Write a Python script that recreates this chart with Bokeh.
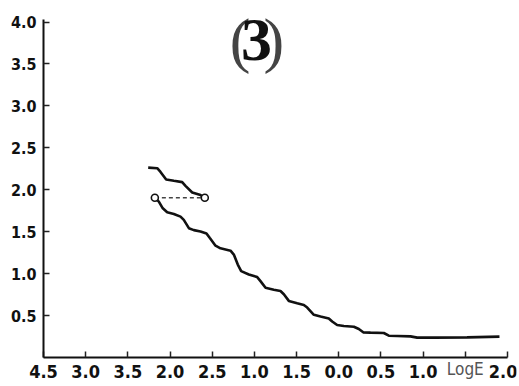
from bokeh.plotting import figure
from bokeh.models import Range1d, FixedTicker, Label
from bokeh.embed import file_html
from bokeh.resources import INLINE

# Tick positions (log E) and printed labels
x_ticks = [-3.5, -3.0, -2.5, -2.0, -1.5, -1.0, -0.5, 0.0, 0.5, 1.0, 1.5, 2.0]
x_tick_labels = ["4.5", "3.0", "3.5", "2.0", "2.5", "1.0", "1.5", "0.0", "0.5", "1.0", "", "2.0"]
y_ticks = [0.5, 1.0, 1.5, 2.0, 2.5, 3.0, 3.5, 4.0]
y_tick_labels = ["0.5", "1.0", "1.5", "2.0", "2.5", "3.0", "3.5", "4.0"]
axis_name = "LogE"
panel_number = "3"

# Upper curve
upper_x = [-2.259, -2.152, -2.113, -2.046, -1.955, -1.856, -1.817, -1.737, -1.639, -1.588]
upper_y = [2.264, 2.257, 2.213, 2.122, 2.107, 2.091, 2.047, 1.968, 1.937, 1.905]

# Lower (main) curve
lower_x = [-2.180, -2.133, -2.086, -2.034, -1.955, -1.876, -1.837, -1.777, -1.718, -1.639,
           -1.568, -1.528, -1.461, -1.402, -1.283, -1.244, -1.197, -1.157, -1.066, -0.967,
           -0.928, -0.868, -0.770, -0.691, -0.651, -0.592, -0.493, -0.414, -0.374, -0.295,
           -0.216, -0.118, -0.078, -0.019, 0.060, 0.179, 0.238, 0.290, 0.376, 0.534,
           0.593, 0.693, 0.850, 0.930, 1.127, 1.522, 1.905]
lower_y = [1.905, 1.858, 1.779, 1.732, 1.712, 1.680, 1.641, 1.542, 1.519, 1.503,
           1.479, 1.424, 1.333, 1.302, 1.274, 1.227, 1.108, 1.030, 0.990, 0.959,
           0.911, 0.832, 0.809, 0.793, 0.754, 0.675, 0.647, 0.627, 0.596, 0.509,
           0.489, 0.466, 0.430, 0.387, 0.375, 0.367, 0.340, 0.300, 0.296, 0.292,
           0.260, 0.257, 0.252, 0.237, 0.237, 0.240, 0.249]

# Dashed connector with open circles
link_x = [-2.180, -1.588]
link_y = [1.905, 1.905]

X0, X1, Y0, Y1 = -3.5, 2.0, 0.0, 4.03

p = figure(width=517, height=384, output_backend="svg", toolbar_location=None,
           x_range=Range1d(-3.998, 2.107), y_range=Range1d(-0.322, 4.233),
           min_border_left=1, min_border_right=1, min_border_top=2, min_border_bottom=0)
p.title = None
p.outline_line_color = None
p.background_fill_color = "white"
p.border_fill_color = "white"
p.xgrid.grid_line_color = None
p.ygrid.grid_line_color = None

for ax in (p.xaxis[0], p.yaxis[0]):
    ax.axis_line_width = 2
    ax.axis_line_color = "#111111"
    ax.major_tick_in = 6
    ax.major_tick_out = 0
    ax.major_tick_line_width = 1.5
    ax.major_tick_line_color = "#222222"
    ax.minor_tick_line_color = None
    ax.major_label_text_color = "#111111"
    ax.major_label_text_font_style = "bold"

# axes drawn at the data origin inside the frame, so the axis name can sit among the labels
p.xaxis.fixed_location = Y0
p.xaxis.bounds = (X0, X1)
p.xaxis.ticker = FixedTicker(ticks=x_ticks)
p.xaxis.major_label_overrides = {t: l for t, l in zip(x_ticks, x_tick_labels)}
p.xaxis.major_label_text_font = "'DejaVu Sans Condensed', sans-serif"
p.xaxis.major_label_text_font_size = "18px"
p.xaxis.major_label_standoff = 8

p.yaxis.fixed_location = X0
p.yaxis.bounds = (Y0, Y1)
p.yaxis.ticker = FixedTicker(ticks=y_ticks)
p.yaxis.major_label_overrides = {t: l for t, l in zip(y_ticks, y_tick_labels)}
p.yaxis.major_label_text_font = "'DejaVu Sans Condensed', sans-serif"
p.yaxis.major_label_text_font_size = "16px"
p.yaxis.major_label_standoff = 7

p.line(upper_x, upper_y, line_width=2.6, line_color="#111111")
p.line(lower_x, lower_y, line_width=2.6, line_color="#111111")
p.line(link_x, link_y, line_width=1.3, line_color="#444444", line_dash="4 3")
p.scatter(link_x, link_y, size=7, fill_color="white", line_color="#111111", line_width=1.6)

# "LogE" axis name, in the place of the 1.5 tick label
p.add_layout(Label(x=1.5, y=-0.015, text=axis_name, text_align="center", text_baseline="top",
                   text_font="'DejaVu Sans Condensed', sans-serif", text_font_size="17px",
                   text_color="#555555"))

# Panel number "(3)"
p.add_layout(Label(x=-1.17, y=3.78, text="(", text_align="center", text_baseline="middle",
                   text_font="'Liberation Serif', serif", text_font_size="62px",
                   text_color="#444444"))
p.add_layout(Label(x=-0.975, y=3.78, text=panel_number, text_align="center", text_baseline="middle",
                   text_font="'Liberation Serif', serif", text_font_size="62px",
                   text_font_style="bold", text_color="#111111"))
p.add_layout(Label(x=-0.77, y=3.78, text=")", text_align="center", text_baseline="middle",
                   text_font="'Liberation Serif', serif", text_font_size="62px",
                   text_color="#444444"))

open("out.html", "w").write(file_html(p, INLINE))
